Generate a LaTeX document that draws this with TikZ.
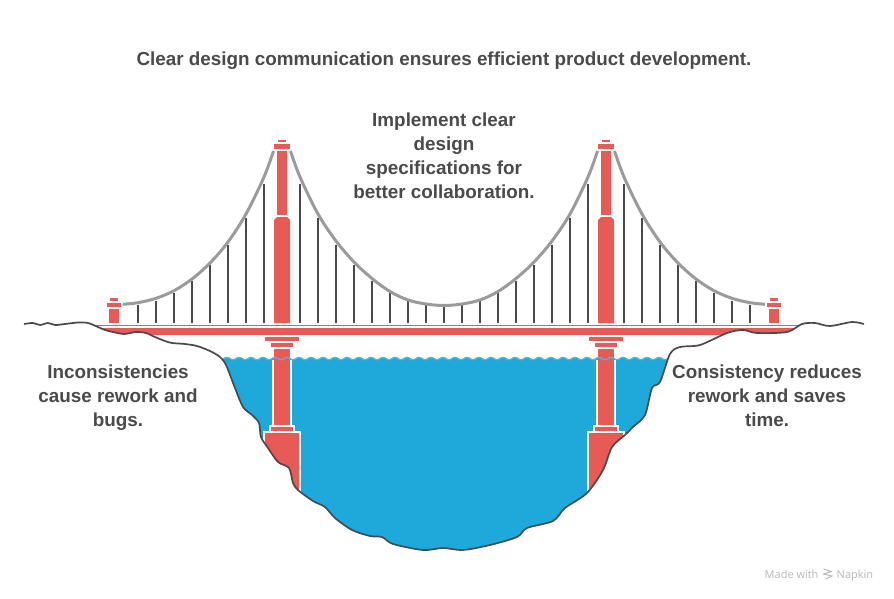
\documentclass[tikz,border=0pt]{standalone}
\usepackage{fontspec}
\setmainfont{Liberation Sans}
\newfontfamily\markfont{Open Sans}
\definecolor{brickred}{HTML}{E85A55}
\definecolor{waterblue}{HTML}{1FA9DB}
\definecolor{wavelight}{HTML}{45BAE2}
\definecolor{inkgrey}{HTML}{4A4A4A}
\definecolor{cablegrey}{HTML}{9B9B9B}
\definecolor{landline}{HTML}{4A4A4A}
\newcommand\terrainpath{plot[smooth,tension=.5] coordinates {(24,324)(33,323)(40,325)(48,323)(55,325)(65,324)(78,322.5)(88,323)(98,327)(105,330)(113,332)(124,334)(136,332)(146,333)(155,337)(165,341)(172,343)(185,344)(197,346)(210,351)(220,357)(226,365)(235,388)(243,407)(252,415)(259,423)(261,437)(268,448)(278,462)(289,468)(293,483)(298,490)(313,501)(325,507)(335,518)(352,530)(370,536)(382,537)(393,544)(423,550)(443,548)(463,550)(490,545)(517,537)(527,528)(553,521)(565,508)(587,493)(603,470)(612,447)(625,435)(633,427)(645,415)(652,388)(660,382)(670,354)(680,347)(700,345)(727,333)(743,330)(757,333)(787,332)(802,324)(815,323)(830,326)(852,322)(864,324)}}
\tikzset{
  x=1pt,y=-1pt,
  red fill/.style={fill=brickred,draw=none},
  hanger/.style={draw=inkgrey,line width=1.8pt},
  cable/.style={draw=cablegrey,line width=3pt},
  label text/.style={text=inkgrey,font=\fontsize{18.85}{24}\selectfont\bfseries,align=center,inner sep=0pt},
  mark text/.style={anchor=base west,inner sep=0pt,text=black!28,font=\markfont\fontsize{11}{12}\selectfont},
}
\newcommand\maintower[1]{%
  \begin{scope}[shift={(#1,0)}]
    \fill[white] (-9.7,360) rectangle (9.7,431);
    \fill[white] (-13,425) rectangle (13,431);
    \fill[white] (-19,431) rectangle (19,500);
    \fill[red fill] (-4,140) rectangle (4,142.5);
    \fill[red fill] (-8,144) rectangle (8,149);
    \fill[red fill] (-5,151) rectangle (5,215);
    \fill[red fill] (-8,323) -- (-8,220) -- (-5,217) -- (5,217) -- (8,220) -- (8,323) -- cycle;
    \fill[red fill] (-17,337) rectangle (17,341);
    \fill[red fill] (-11,343) rectangle (11,347);
    \fill[red fill] (-8,349) rectangle (8,425);
    \fill[red fill] (-11,427) rectangle (11,431);
    \fill[red fill] (-17,433) rectangle (17,500);
  \end{scope}}
\newcommand\smalltower[1]{%
  \begin{scope}[shift={(#1,0)}]
    \fill[red fill] (-4,298) rectangle (4,301);
    \fill[red fill] (-7,303) rectangle (7,307);
    \fill[red fill] (-5,309) rectangle (5,323);
  \end{scope}}
\begin{document}
\begin{tikzpicture}
\useasboundingbox (0,0) rectangle (894,599);
% water
\fill[waterblue] plot[domain=215:675,samples=230] (\x,{358.2-1.2*cos(30*(\x-227))}) -- (675,560) -- (215,560) -- cycle;
% deck
\fill[red fill] (90,324.5) rectangle (800,325.8);
\fill[red fill] (90,328) rectangle (800,335);
% towers
\maintower{282}
\maintower{606}
\smalltower{114}
\smalltower{774}
% hangers
\foreach \hx/\hy in {138/305,156/301,174/293,192/281,210/265,228/245,246/218,264/184,
  300/184,318/218,336/245,354/265,372/281,390/293,408/301,426/305,444/306,
  462/305,480/301,498/293,516/281,534/265,552/245,570/218,588/184,
  624/184,642/218,660/245,678/265,696/281,714/293,732/301,750/305}
  \draw[hanger] (\hx,\hy) -- (\hx,323);
% cables
\draw[cable] plot[smooth,tension=.55] coordinates {(123,304.3)(138,302.7)(156,298.3)(174,290.7)(192,279)(210,263)(228,242)(246,214)(264,177)(273.5,151)};
\draw[cable] plot[smooth,tension=.55] coordinates {(290.5,151)(300,177)(318,214)(336,241)(354,262)(372,278.5)(390,291.5)(408,300)(426,304)(444,305.5)(462,304)(480,300)(498,291.5)(516,278.5)(534,262)(552,241)(570,214)(588,177)(597.5,151)};
\draw[cable] plot[smooth,tension=.55] coordinates {(614.5,151)(624,177)(642,214)(660,242)(678,263)(696,279)(714,290.7)(732,298.3)(750,302.7)(765,304.3)};
% wave line
\draw[wavelight,line width=1.3pt] plot[domain=222:668,samples=230] (\x,{358.6-1.2*cos(30*(\x-227))});
% land
\fill[white] \terrainpath -- (894,324) -- (894,599) -- (0,599) -- (0,324) -- cycle;
\draw[landline,line width=1.7pt,line join=round] \terrainpath;
% texts
\node[label text,anchor=base] (title) at (444,66) {Clear design communication ensures efficient product development.};
\node[label text,anchor=base] (top) at (444,198) {Implement clear\\design\\specifications for\\better collaboration.};
\node[label text,anchor=base] (left) at (118,426) {Inconsistencies\\cause rework and\\bugs.};
\node[label text,anchor=base] (right) at (767,426) {Consistency reduces\\rework and saves\\time.};
% watermark
\node[mark text] (made) at (764.5,578) {Made with};
\node[mark text] (napkin) at (836.5,578) {Napkin};
\draw[black!28,line width=1pt] (823.5,569) -- (831,571.5) -- (823.5,574) -- (832,576) -- (826,579);
\end{tikzpicture}
\end{document}
